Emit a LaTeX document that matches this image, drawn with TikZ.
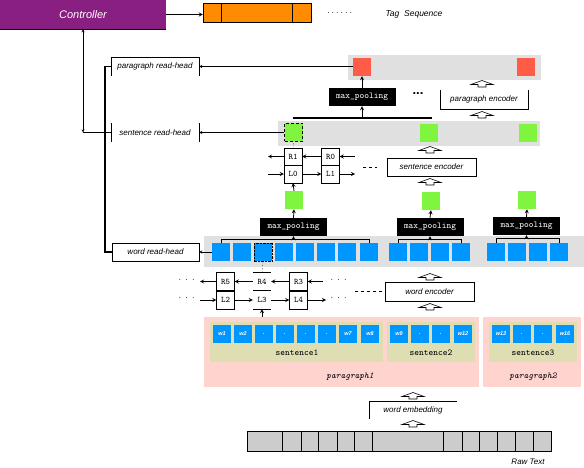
\documentclass[tikz,border=0pt]{standalone}
\usepackage{fontspec}
\setsansfont{Liberation Sans}
\definecolor{ctrlpurple}{RGB}{138,31,130}
\definecolor{tagorange}{RGB}{255,140,0}
\definecolor{bandgray}{RGB}{224,224,224}
\definecolor{pvecred}{RGB}{255,92,72}
\definecolor{svecgreen}{RGB}{128,245,64}
\definecolor{wvecblue}{RGB}{0,150,255}
\definecolor{parapink}{RGB}{255,212,206}
\definecolor{sentolive}{RGB}{222,222,178}
\definecolor{rawgray}{RGB}{204,204,204}
\tikzset{
  lbl/.style={font=\sffamily\itshape\fontsize{8}{9}\selectfont},
  ttlbl/.style={font=\ttfamily\fontsize{9}{10}\selectfont},
  band/.style={fill=bandgray, inner sep=0pt},
  vec/.style={minimum size=18, inner sep=0pt},
  pool/.style={fill=black, text=white, minimum width=67, minimum height=18, inner sep=0pt, ttlbl},
  cell/.style={draw, minimum width=18, minimum height=18, inner sep=0pt, font=\ttfamily\fontsize{8.5}{9}\selectfont},
  wordbox/.style={fill=wvecblue, vec, text=white, font=\sffamily\itshape\bfseries\fontsize{5.5}{6}\selectfont},
  openarrow/.pic={\draw[fill=white, line width=.6pt] (-4,3)--(-4,.5)--(-11,.5)--(0,-3.5)--(11,.5)--(4,.5)--(4,3)--cycle;}
}
\begin{document}
\begin{tikzpicture}[>=stealth, x=1pt, y=-1pt]
\useasboundingbox (0,0) rectangle (584,468);
% controller and tag sequence
\node[fill=ctrlpurple, minimum width=166, minimum height=29, inner sep=0pt, text=white,
  font=\sffamily\itshape\fontsize{11}{13}\selectfont] (ctrl) at (83,14.5) {Controller};
\draw (ctrl.south west) -- (ctrl.south east);
\node[draw, fill=tagorange, minimum width=18, minimum height=19, inner sep=0pt] (t1) at (212,12.5) {};
\node[draw, fill=tagorange, minimum width=71, minimum height=19, inner sep=0pt] (t2) at (256.5,12.5) {};
\node[draw, fill=tagorange, minimum width=19, minimum height=19, inner sep=0pt] (t3) at (301.5,12.5) {};
\draw[->, thick] (ctrl.east) -- (ctrl.east -| t1.west);
\node[lbl] (tagdots) at (340,13) {.\ .\ .\ .\ .\ .};
\node[lbl, font=\sffamily\itshape\fontsize{8.5}{10}\selectfont] (tagseq) at (414,14) {Tag\ \ Sequence};

% read heads
\node[lbl, minimum width=88, minimum height=18, inner sep=0pt] (prh) at (155,66.5) {paragraph read-head};
\draw (prh.south west) -- (prh.north west) -- (prh.north east) -- (prh.south east);
\node[lbl, minimum width=88, minimum height=18, inner sep=0pt] (srh) at (155,132.5) {sentence read-head};
\draw (srh.north west) -- (srh.south west) (srh.north east) -- (srh.south east);
\node[lbl, draw, minimum width=87, minimum height=18, inner sep=0pt] (wrh) at (155.5,252) {word read-head};
\coordinate (ctrlfoot) at (83,132.5);
\draw[<->] (ctrl.south) -- (ctrlfoot);
\draw (ctrlfoot) -- (srh.west);
\coordinate (bustop) at (105,66.5);
\coordinate (busbot) at (105,252);
\draw[line width=1.2pt] (prh.west) -- (bustop) -- (busbot) -- (wrh.west);

% paragraph layer
\node[band, minimum width=193, minimum height=25] (pband) at (444.5,67.5) {};
\node[vec, fill=pvecred] (p1) at (362,67) {};
\node[vec, fill=pvecred] (p2) at (526,67) {};
\draw[->] (p1.west |- prh.east) -- (prh.east);
\node[pool] (ppool) at (362,97) {max\_pooling};
\draw[->, thick] (ppool.north) -- (p1.south);
\node[font=\sffamily\bfseries\fontsize{13}{13}\selectfont] (pdots) at (418,94) {...};
\node[lbl, minimum width=88, minimum height=19, inner sep=0pt] (penc) at (484,99.5) {paragraph encoder};
\draw (penc.north west) -- (penc.south west) -- (penc.south east) -- (penc.north east);
\pic at (482,84) {openarrow};
\pic at (482,115) {openarrow};

% sentence layer
\node[band, minimum width=262, minimum height=25] (sband) at (409,133.5) {};
\coordinate (sbarl) at (293,118);
\coordinate (sbarr) at (432,118);
\draw[line width=1.5pt] (sbarl) -- (sbarr);
\draw[->, thick] (sbarl -| ppool.south) -- (ppool.south);
\node[vec, fill=svecgreen, draw, densely dashed] (s1) at (293.5,132.5) {};
\node[vec, fill=svecgreen] (s2) at (429,133) {};
\node[vec, fill=svecgreen] (s3) at (527.5,133) {};
\draw[->] (s1.west) -- (srh.east);
\node[lbl, draw, minimum width=89, minimum height=18, inner sep=0pt] (senc) at (431.5,167) {sentence encoder};
\pic at (430,150) {openarrow};
\pic at (430,182) {openarrow};
\node[cell, minimum height=17.5] (r1) at (293,156.5) {R1};
\node[cell, minimum height=17.5] (l0) at (293,174) {L0};
\node[cell, minimum height=17.5] (r0) at (330.5,156.5) {R0};
\node[cell, minimum height=17.5] (l1) at (330.5,174) {L1};
\coordinate (srin) at (355,156.5);
\coordinate (srout) at (268,156.5);
\coordinate (slin) at (268,174);
\coordinate (slout) at (355,174);
\draw[->, thick] (srin) -- (r0.east);
\draw[->, thick] (r0.west) -- (r1.east);
\draw[->, thick] (r1.west) -- (srout);
\draw[->, thick] (slin) -- (l0.west);
\draw[->, thick] (l0.east) -- (l1.west);
\draw[->, thick] (l1.east) -- (slout);
\draw[dashed] ([xshift=-24pt]senc.west) -- ([xshift=-10pt]senc.west);
\draw[densely dotted] (s1.south) -- (r1.north);

% sentence vectors and pooling
\node[vec, fill=svecgreen] (sv1) at (294,200) {};
\node[vec, fill=svecgreen] (sv2) at (431,201) {};
\node[vec, fill=svecgreen] (sv3) at (527,200) {};
\draw[->, thick] (sv1.north) -- (l0.south);
\node[pool] (wpool1) at (293.5,227) {max\_pooling};
\node[pool] (wpool2) at (430,227) {max\_pooling};
\node[pool] (wpool3) at (526.5,226) {max\_pooling};
\draw[->, thick] (wpool1.north) -- (sv1.south);
\draw[->, thick] (wpool2.north) -- (sv2.south);
\draw[->, thick] (wpool3.north) -- (sv3.south);

% word layer
\node[band, minimum width=380, minimum height=31] (wband) at (394,251.5) {};
\foreach \i/\x in {1/221,2/242,3/263,4/284,5/305,6/326,7/347,8/369}
  \node[vec, fill=wvecblue] (wa\i) at (\x,252) {};
\draw[densely dotted] (wa3.north west) rectangle (wa3.south east);
\foreach \i/\x in {1/398,2/419,3/440,4/461}
  \node[vec, fill=wvecblue] (wb\i) at (\x,252) {};
\foreach \i/\x in {1/496,2/517,3/538,4/559}
  \node[vec, fill=wvecblue] (wc\i) at (\x,252) {};
\draw[->] (wa1.west) -- (wrh.east);
\path (wa1.north) ++(0,-3) coordinate (bara);
\path (wb1.north) ++(0,-3) coordinate (barb);
\path (wc1.north) ++(0,-4) coordinate (barc);
\draw[thick] (wa1.north) -- (bara) -| (wa8.north);
\draw[thick] (wb1.north) -- (barb) -| (wb4.north);
\draw[thick] (wc1.north) -- (barc) -| (wc4.north);
\draw[->, thick] (bara -| wpool1.south) -- (wpool1.south);
\draw[->, thick] (barb -| wpool2.south) -- (wpool2.south);
\draw[->, thick] (barc -| wpool3.south) -- (wpool3.south);

% word encoder cells
\node[cell] (r5) at (225.5,281.5) {R5};
\node[cell] (l2) at (225.5,300) {L2};
\node[font=\ttfamily\fontsize{8.5}{9}\selectfont, minimum width=18, minimum height=18, inner sep=0pt] (r4) at (262,281.5) {R4};
\node[font=\ttfamily\fontsize{8.5}{9}\selectfont, minimum width=18, minimum height=18, inner sep=0pt] (l3) at (262,300) {L3};
\draw (r4.north west) -- (r4.north east);
\draw[thick] (r4.south west) -- (r4.south east);
\draw (l3.south west) -- (l3.south east);
\node[cell] (r3) at (298.5,281.5) {R3};
\node[cell] (l4) at (298.5,300) {L4};
\coordinate (wrin) at (323,281.5);
\coordinate (wrout) at (200,281.5);
\coordinate (wlin) at (200,300);
\coordinate (wlout) at (326,300);
\draw[->, thick] (wrin) -- (r3.east);
\draw[->, thick] (r3.west) -- (r4.east);
\draw[->, thick] (r4.west) -- (r5.east);
\draw[->, thick] (r5.west) -- (wrout);
\draw[->, thick] (wlin) -- (l2.west);
\draw[->, thick] (l2.east) -- (l3.west);
\draw[->, thick] (l3.east) -- (l4.west);
\draw[->, thick] (l4.east) -- (wlout);
\node[lbl] (dotsrl) at (187,280) {.\ \ .\ \ .};
\node[lbl] (dotsll) at (187,298) {.\ \ .\ \ .};
\node[lbl] (dotsrr) at (339,280) {.\ \ .\ \ .};
\node[lbl] (dotslr) at (339,298) {.\ \ .\ \ .};
\node[lbl, draw, minimum width=89, minimum height=19, inner sep=0pt] (wenc) at (429.5,291.5) {word encoder};
\draw[dashed] ([xshift=-30pt]wenc.west) -- ([xshift=-3pt]wenc.west);
\pic at (430,277) {openarrow};
\pic at (430,307) {openarrow};
\draw[densely dotted] (wa3.south) -- (r4.north);

% paragraphs, sentences, words
\node[fill=parapink, minimum width=275, minimum height=70, inner sep=0pt] (para1) at (341.5,352) {};
\node[fill=parapink, minimum width=98, minimum height=70, inner sep=0pt] (para2) at (532,352) {};
\node[fill=sentolive, minimum width=173, minimum height=40, inner sep=0pt] (sent1) at (296.5,342) {};
\node[fill=sentolive, minimum width=88, minimum height=40, inner sep=0pt] (sent2) at (431,342) {};
\node[fill=sentolive, minimum width=88, minimum height=40, inner sep=0pt] (sent3) at (533,342) {};
\foreach \i/\x/\t in {1/222/w1,2/243/w2,3/264/.,4/285/.,5/306/.,6/327/.,7/348/w7,8/370/w8}
  \node[wordbox] (ea\i) at (\x,334) {\t};
\foreach \i/\x/\t in {1/399/w9,2/420/.,3/441/.,4/463/w12}
  \node[wordbox] (eb\i) at (\x,334) {\t};
\foreach \i/\x/\t in {1/501/w13,2/522/.,3/543/.,4/565/w16}
  \node[wordbox] (ec\i) at (\x,334) {\t};
\node[ttlbl] (s1lbl) at (297,353) {sentence1};
\node[ttlbl] (s2lbl) at (431,353) {sentence2};
\node[ttlbl] (s3lbl) at (533,353) {sentence3};
\node[font=\ttfamily\itshape\fontsize{9}{10}\selectfont] (p1lbl) at (350,377) {paragraph1};
\node[font=\ttfamily\itshape\fontsize{9}{10}\selectfont] (p2lbl) at (533,377) {paragraph2};
\draw[->, thick] (l3.south |- para1.north) -- (l3.south);

% word embedding and raw text
\node[lbl, minimum width=88, minimum height=18, inner sep=0pt] (wemb) at (413,410) {word embedding};
\draw (wemb.south west) -- (wemb.north west) -- (wemb.north east);
\pic at (413,396) {openarrow};
\pic at (413,424) {openarrow};
\node[draw, fill=rawgray, minimum width=304, minimum height=20, inner sep=0pt] (raw) at (399,441) {};
\foreach \x in {282,301,318,337,354,372,443,462,479,497,515,533}
  \draw (raw.north -| \x,0) -- (raw.south -| \x,0);
\node[lbl] (rawlbl) at (528,462) {Raw Text};
\end{tikzpicture}
\end{document}
